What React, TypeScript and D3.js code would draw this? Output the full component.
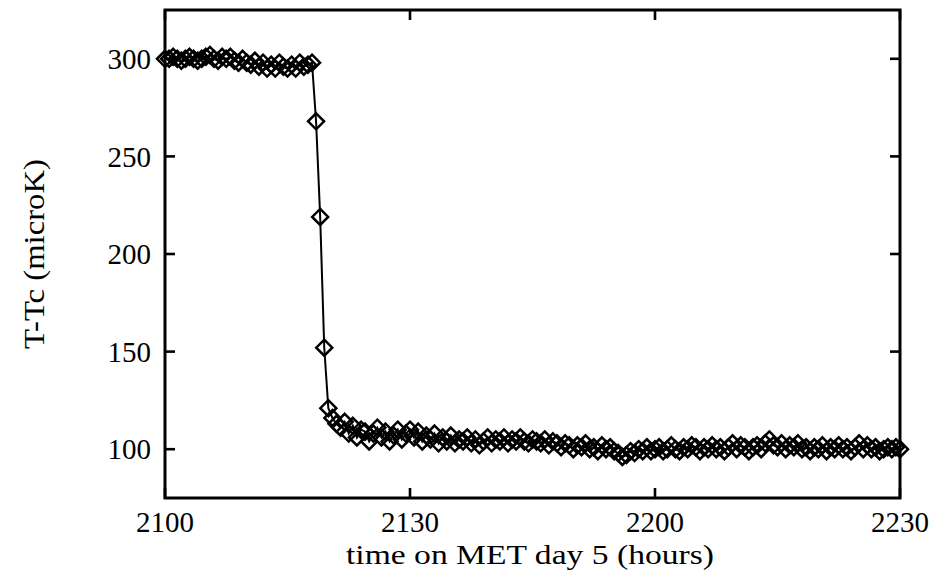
import React from "react";
import * as d3 from "d3";

// Sample cadence: one reading every half minute, starting at 21:00
const START_MIN = 0;
const STEP_MIN = 0.5;

// T - Tc (microK)
const plateau = [
  300, 300, 301, 300, 299, 300, 301, 300, 299, 300, 301, 302, 300, 299, 301, 300, 301, 299, 298,
  300, 298, 297, 299, 296, 298, 295, 297, 295, 298, 296, 295, 297, 295, 298, 296, 297, 298,
];
const drop = [268, 219, 152, 121];
const settle = [
  116, 113, 111, 114, 108, 112, 106, 110, 109, 104, 108, 111, 106, 109, 104, 107, 110, 105, 108, 110,
  106, 109, 104, 107, 105, 108, 103, 106, 104, 107, 103, 105, 104, 106, 103, 105, 102, 104, 106, 103,
  105, 104, 106, 103, 105, 104, 106, 104, 103, 105, 104, 103, 105, 102, 104, 103, 101, 103, 102, 100,
  102, 101, 103, 100, 101, 99, 102, 100, 101, 99, 98, 96, 97, 99, 98, 100, 99, 101, 99, 100,
  101, 99, 100, 102, 100, 99, 101, 100, 102, 101, 99, 101, 100, 102, 100, 101, 99, 101, 103, 100,
  102, 101, 99, 101, 102, 100, 103, 105, 102, 101, 103, 100, 102, 101, 103, 100, 101, 99, 101, 100,
  102, 99, 101, 100, 102, 100, 101, 99, 101, 103, 100, 102, 100, 101, 99, 100, 101, 100, 101, 100,
];
const values = [...plateau, ...drop, ...settle];

const xTickMinutes = [0, 30, 60, 90];
const xTickLabels = ["2100", "2130", "2200", "2230"];
const yTicks = [100, 150, 200, 250, 300];

const W = 934;
const H = 572;
const M = { left: 165, right: 900, top: 10, bottom: 498 };
const FONT = "'Liberation Serif', 'DejaVu Serif', serif";

export default function App() {
  const x = d3.scaleLinear().domain([0, 90]).range([M.left, M.right]);
  const y = d3.scaleLinear().domain([75, 325]).range([M.bottom, M.top]);
  const pts = values.map((v, i) => [START_MIN + i * STEP_MIN, v] as [number, number]);
  const line = d3
    .line<[number, number]>()
    .x((d) => x(d[0]))
    .y((d) => y(d[1]));
  const diamond = (cx: number, cy: number, r: number) =>
    `M${cx},${cy - r}L${cx + r},${cy}L${cx},${cy + r}L${cx - r},${cy}Z`;
  const tick = 10;

  return (
    <svg
      width={W}
      height={H}
      style={{ position: "absolute", left: 0, top: 0, background: "#fff" }}
    >
      <path d={line(pts) || ""} fill="none" stroke="#000" strokeWidth={2} />
      {pts.map((p, i) => (
        <path
          key={i}
          d={diamond(x(p[0]), y(p[1]), 8)}
          fill="none"
          stroke="#000"
          strokeWidth={2.5}
        />
      ))}
      <rect
        x={M.left}
        y={M.top}
        width={M.right - M.left}
        height={M.bottom - M.top}
        fill="none"
        stroke="#000"
        strokeWidth={3}
      />
      {yTicks.map((t) => (
        <g key={t}>
          <line x1={M.left} x2={M.left + tick} y1={y(t)} y2={y(t)} stroke="#000" strokeWidth={2.6} />
          <line x1={M.right} x2={M.right - tick} y1={y(t)} y2={y(t)} stroke="#000" strokeWidth={2.6} />
          <text
            x={151}
            y={y(t)}
            dy="0.35em"
            textAnchor="end"
            fontFamily={FONT}
            fontSize={29}
            fill="#000"
          >
            {t}
          </text>
        </g>
      ))}
      {xTickMinutes.map((m, i) => (
        <g key={m}>
          <line x1={x(m)} x2={x(m)} y1={M.bottom} y2={M.bottom - tick} stroke="#000" strokeWidth={2.6} />
          <line x1={x(m)} x2={x(m)} y1={M.top} y2={M.top + tick} stroke="#000" strokeWidth={2.6} />
          <text
            x={x(m)}
            y={532}
            textAnchor="middle"
            fontFamily={FONT}
            fontSize={29}
            fill="#000"
          >
            {xTickLabels[i]}
          </text>
        </g>
      ))}
      <text
        x={530}
        y={564}
        textAnchor="middle"
        fontFamily={FONT}
        fontSize={27}
        textLength={368}
        lengthAdjust="spacingAndGlyphs"
        fill="#000"
      >
        time on MET day 5 (hours)
      </text>
      <text
        transform={`translate(44,${(M.top + M.bottom) / 2}) rotate(-90)`}
        textAnchor="middle"
        fontFamily={FONT}
        fontSize={29}
        textLength={190}
        lengthAdjust="spacingAndGlyphs"
        fill="#000"
      >
        T-Tc (microK)
      </text>
    </svg>
  );
}
